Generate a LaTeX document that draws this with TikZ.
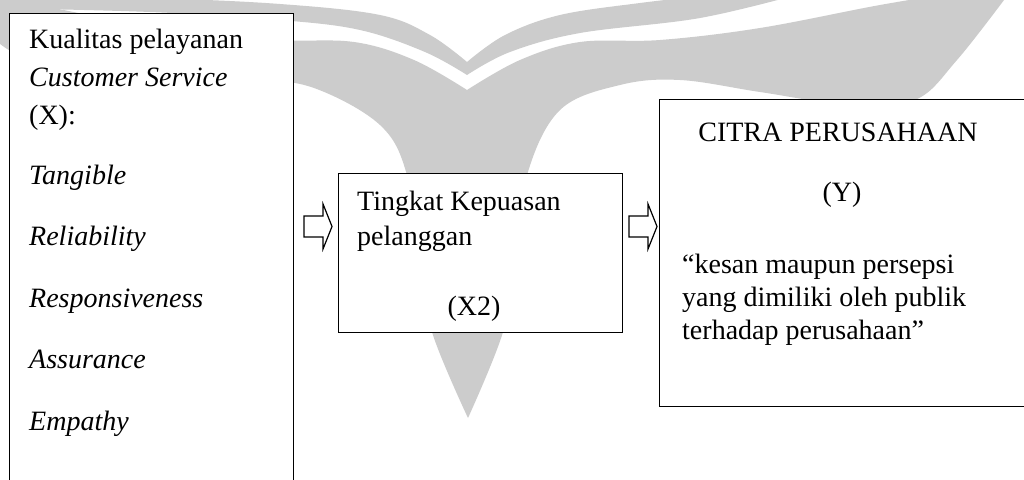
\documentclass[tikz,border=0pt]{standalone}
\usepackage{fontspec}
\setmainfont{Liberation Serif}
\usetikzlibrary{calc}
\definecolor{wmgray}{HTML}{CCCCCC}
\begin{document}
\begin{tikzpicture}[x=1pt,y=-1pt,
  box/.style={draw=black, fill=white, line width=1.4pt, inner sep=0pt},
  txt/.style={anchor=base west, inner sep=0pt, font=\fontsize{28}{33}\selectfont},
  ctxt/.style={txt, anchor=base},
  blockarrow/.style={draw=black, fill=white, line width=1.2pt, line join=miter},
  wm/.style={fill=wmgray, draw=none}]
\useasboundingbox (0,0) rectangle (1024,479);
\fill[white] (0,0) rectangle (1024,479);
% watermark
\fill[wm] plot[smooth, tension=0.6] coordinates {(-10,-5) (150,-2) (280,4) (380,15) (430,35) (467,62)}
  -- plot[smooth, tension=0.6] coordinates {(467,62) (505,35) (560,15) (640,3) (720,-6)}
  -- (800,-6)
  -- plot[smooth, tension=0.6] coordinates {(800,-6) (700,18) (580,33) (510,52) (467,75)}
  -- plot[smooth, tension=0.6] coordinates {(467,75) (425,52) (360,30) (280,20) (150,12) (-10,8)} -- cycle;
\fill[wm] plot[smooth, tension=0.6] coordinates {(468,418) (432,332) (420,260) (407,175) (380,125) (314,88) (254,80) (174,80) (84,70) (19,55) (-10,35)}
  -- (-20,-8) -- (-5,-8)
  -- plot[smooth, tension=0.6] coordinates {(-5,-8) (54,8) (174,30) (274,40) (354,42) (414,60) (467,90)}
  -- plot[smooth, tension=0.6] coordinates {(467,90) (520,60) (580,42) (660,40) (760,28) (880,5) (960,-8)}
  -- (1010,-8)
  -- plot[smooth, tension=0.6] coordinates {(1010,-8) (957,60) (915,100) (850,105) (760,92) (680,80) (620,85) (560,110) (527,175) (515,260) (503,332) (468,418)} -- cycle;
% boxes
\node[box, anchor=north west, minimum width=284pt, minimum height=490pt] (xbox) at (9,13) {};
\node[box, anchor=north west, minimum width=284pt, minimum height=159pt] (x2box) at (338,173) {};
\node[box, anchor=north west, minimum width=380pt, minimum height=307pt] (ybox) at (659,99) {};
% left box text
\node[txt] (t1) at (29,48) {Kualitas pelayanan};
\node[txt] (t2) at (29,86) {\textit{Customer Service}};
\node[txt] (t3) at (29,124) {(X):};
\node[txt] (t4) at (29,184) {\textit{Tangible}};
\node[txt] (t5) at (29,245) {\textit{Reliability}};
\node[txt] (t6) at (29,307) {\textit{Responsiveness}};
\node[txt] (t7) at (29,368) {\textit{Assurance}};
\node[txt] (t8) at (29,430) {\textit{Empathy}};
% middle box text
\node[txt] (m1) at (357,210) {Tingkat Kepuasan};
\node[txt] (m2) at (357,245) {pelanggan};
\node[ctxt] (m3) at (474,315) {(X2)};
% right box text
\node[ctxt] (r1) at (838,141) {CITRA PERUSAHAAN};
\node[ctxt] (r2) at (842,201) {(Y)};
\node[txt] (r3) at (682,273) {“kesan maupun persepsi};
\node[txt] (r4) at (682,306) {yang dimiliki oleh publik};
\node[txt] (r5) at (682,339) {terhadap perusahaan”};
% block arrows
\coordinate (a1) at (304,226.5);
\coordinate (a2) at (629,226.5);
\foreach \a in {a1,a2}{
  \draw[blockarrow] ($(\a)+(0,-10.5)$) -- ($(\a)+(19,-10.5)$) -- ($(\a)+(19,-22.5)$) -- ($(\a)+(28,0)$)
    -- ($(\a)+(19,22.5)$) -- ($(\a)+(19,10.5)$) -- ($(\a)+(0,10.5)$) -- cycle;
}
\end{tikzpicture}
\end{document}
